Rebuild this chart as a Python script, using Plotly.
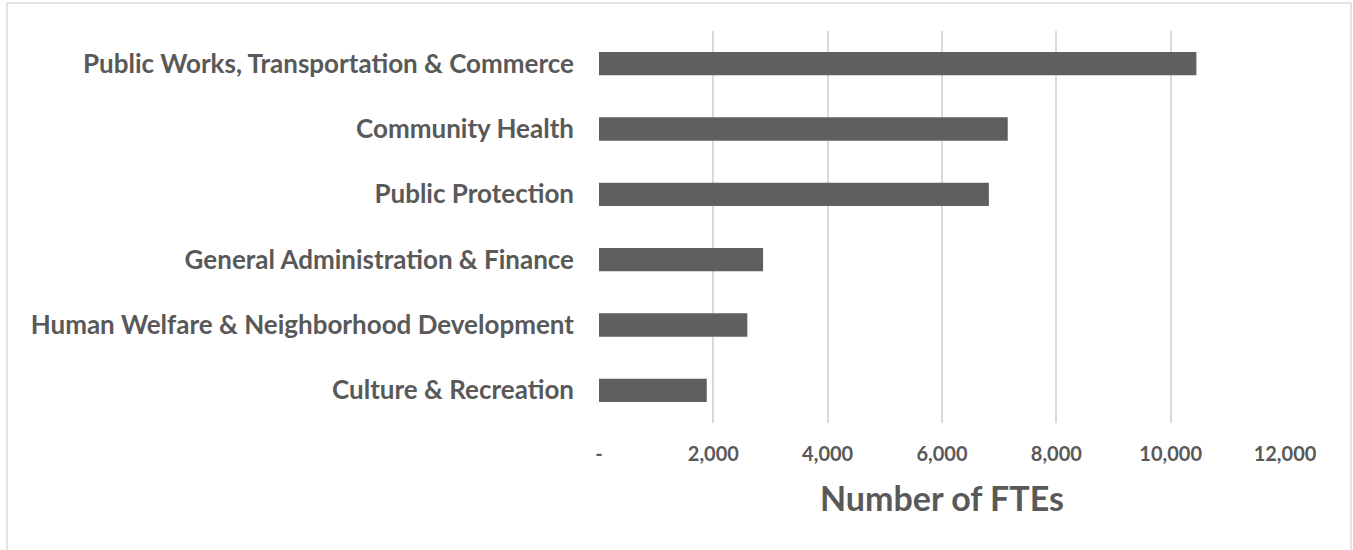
import plotly.graph_objects as go

categories = [
    "Public Works, Transportation & Commerce",
    "Community Health",
    "Public Protection",
    "General Administration & Finance",
    "Human Welfare & Neighborhood Development",
    "Culture & Recreation",
]
ftes = [10450, 7150, 6820, 2870, 2595, 1885]
tick_values = [0, 2000, 4000, 6000, 8000, 10000, 12000]
tick_labels = ["-", "2,000", "4,000", "6,000", "8,000", "10,000", "12,000"]

TEXT = "#595959"
FONT = "Lato"

fig = go.Figure(
    go.Bar(
        y=categories,
        x=ftes,
        orientation="h",
        marker=dict(color="#5f5f5f", line=dict(width=0)),
    )
)

W, H = 1353, 550
ml, mr, mt, mb = 599, 68, 31, 127
pw, ph = W - ml - mr, H - mt - mb

fig.update_layout(
    width=W,
    height=H,
    margin=dict(l=ml, r=mr, t=mt, b=mb),
    paper_bgcolor="white",
    plot_bgcolor="white",
    bargap=0.643,
    showlegend=False,
    font=dict(family=FONT, color=TEXT),
    xaxis=dict(
        range=[0, 12000],
        tickvals=tick_values,
        ticktext=tick_labels,
        showgrid=True,
        gridcolor="#d9d9d9",
        gridwidth=1.5,
        zeroline=False,
        showline=False,
        ticks="",
        ticklabelstandoff=17,
        tickfont=dict(family=FONT, size=20, color=TEXT, weight="bold"),
        title=dict(
            text="Number of FTEs",
            font=dict(family=FONT, size=34, color=TEXT, weight="bold"),
            standoff=23,
        ),
    ),
    yaxis=dict(
        categoryorder="array",
        categoryarray=categories[::-1],
        showgrid=False,
        zeroline=False,
        showline=False,
        ticks="",
        ticklabelstandoff=24,
        tickfont=dict(family=FONT, size=26, color=TEXT, weight="bold"),
    ),
    shapes=[
        dict(
            type="rect",
            xref="paper",
            yref="paper",
            x0=(7 - ml) / pw,
            x1=(1351 - ml) / pw,
            y0=(H - 560 - mb) / ph,
            y1=(H - 3 - mb) / ph,
            line=dict(color="#d9d9d9", width=1.5),
            fillcolor="rgba(0,0,0,0)",
            layer="below",
        )
    ],
)

fig.write_html(
    "out.html",
    config={"displayModeBar": False},
    post_script="document.body.style.margin='0';document.body.style.padding='0';",
)
